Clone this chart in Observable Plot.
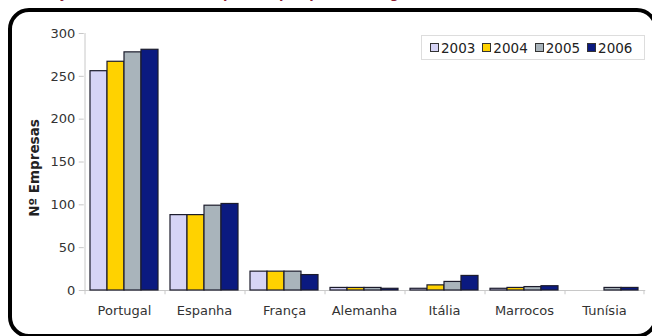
<!DOCTYPE html>
<html><head><meta charset="utf-8">
<script src="https://cdn.jsdelivr.net/npm/d3@7"></script>
<script src="https://cdn.jsdelivr.net/npm/@observablehq/plot@0.6"></script>
<style>
html,body{margin:0;padding:0;background:#fff}
body{width:652px;height:336px;overflow:hidden;position:relative;font-family:"DejaVu Sans",sans-serif}
#title{position:absolute;left:14px;top:-16px;font:bold 16px "Liberation Sans",sans-serif;color:#8b1a30;white-space:nowrap}
#frame{position:absolute;left:8px;top:8px;width:650px;height:330px;box-sizing:border-box;border:4.5px solid #000;border-radius:21px;pointer-events:none}
#chart{position:absolute;left:0;top:0}
#legend{position:absolute;left:421px;top:35px;width:224px;height:25px;box-sizing:border-box;border:1px solid #ddd;background:#fff;display:flex;align-items:center;padding-left:8px;gap:7px;font-size:13.5px;color:#222}
#legend .it{display:flex;align-items:center}
#legend .sw{width:9px;height:9px;border:1px solid #333;margin-right:2px;box-sizing:border-box}
</style></head>
<body>
<div id="title">Evolução do número de empresas por país de origem</div>
<div id="chart"></div>
<div id="legend"></div>
<div id="frame"></div>
<script>
const countries = ["Portugal","Espanha","França","Alemanha","Itália","Marrocos","Tunísia"];
const years = ["2003","2004","2005","2006"];
const v2003 = [256, 88, 22, 3, 2, 2, 0];
const v2004 = [267, 88, 22, 3, 6, 3, 0];
const v2005 = [278, 99, 22, 3, 10, 4, 3];
const v2006 = [281, 101, 18, 2, 17, 5, 3];
const yTicks = [0, 50, 100, 150, 200, 250, 300];
const colors = ["#d6d4f6", "#ffd200", "#a9b4bb", "#0b1a80"];
const yLabel = "Nº Empresas";

const series = [v2003, v2004, v2005, v2006];
const data = [];
countries.forEach((c, i) => years.forEach((y, j) => data.push({country: c, year: y, value: series[j][i]})));

const W = 652, H = 336, mL = 82, mR = 6, mT = 33, mB = 46;
const pI = 0.13, pO = 0.065;
const step = (W - mL - mR) / (countries.length - pI + 2 * pO);
const gap = step * pI, bw = step - gap, bwx = bw / years.length;
const edge = bwx / 2 + gap / 2;

const chart = Plot.plot({
  width: W, height: H,
  marginLeft: mL, marginRight: mR, marginTop: mT, marginBottom: mB,
  style: {fontFamily: "DejaVu Sans", fontSize: "13px", color: "#333", background: "transparent"},
  fx: {domain: countries, paddingInner: pI, paddingOuter: pO, label: null, axis: "bottom", tickSize: 0, tickPadding: 15},
  x: {domain: years, padding: 0, axis: null},
  y: {domain: [0, 300], axis: null},
  color: {domain: years, range: colors},
  marks: [
    Plot.ruleY([0], {stroke: "#c8c8c8", insetLeft: -gap / 2 - 1, insetRight: -gap / 2 - 1}),
    Plot.ruleX(countries, {fx: d => d, x: () => years[0], y1: 0, y2: -5, dx: -edge, stroke: "#c8c8c8"}),
    Plot.ruleX(countries.slice(-1), {fx: d => d, x: () => years[years.length - 1], y1: 0, y2: -5, dx: edge, stroke: "#c8c8c8"}),
    Plot.ruleX(countries.slice(0, 1), {fx: d => d, x: () => years[0], y1: 0, y2: 300, dx: -edge, stroke: "#c8c8c8"}),
    Plot.axisY({ticks: yTicks, tickSize: 5, tickPadding: 4, dx: -gap / 2, stroke: "#c8c8c8", fill: "#333", label: null}),
    Plot.barY(data, {fx: "country", x: "year", y: "value", fill: "year", stroke: "#1c1c2c", strokeWidth: 1.2, filter: d => d.value > 0}),
    Plot.text([yLabel], {fx: () => countries[0], text: d => d, frameAnchor: "left", textAnchor: "middle", rotate: -90, dx: -(87 - 32), dy: 6, fontWeight: "bold", fontSize: 13.5, fill: "#222"})
  ]
});
document.getElementById("chart").appendChild(chart);

const lg = document.getElementById("legend");
years.forEach((y, j) => {
  const it = document.createElement("div"); it.className = "it";
  const sw = document.createElement("span"); sw.className = "sw"; sw.style.background = colors[j];
  const t = document.createElement("span"); t.textContent = y;
  it.appendChild(sw); it.appendChild(t); lg.appendChild(it);
});
</script>
</body></html>
